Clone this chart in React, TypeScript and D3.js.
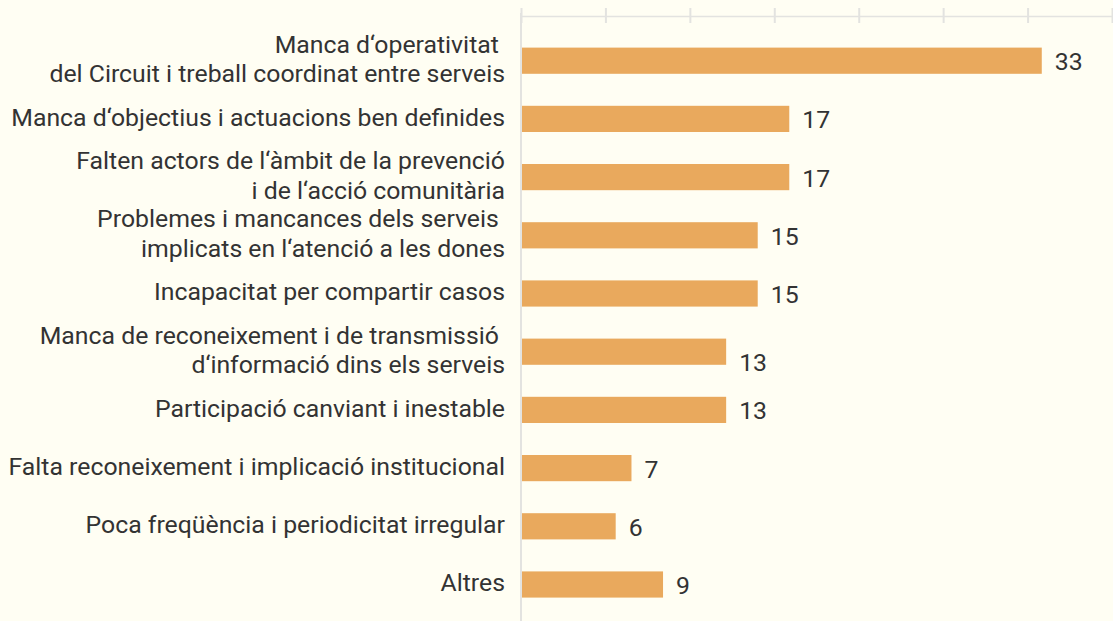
import React, { useRef, useEffect } from 'react';
import * as d3 from 'd3';

const categories = [
  'Manca d‘operativitat \ndel Circuit i treball coordinat entre serveis',
  'Manca d‘objectius i actuacions ben definides',
  'Falten actors de l‘àmbit de la prevenció\ni de l‘acció comunitària',
  'Problemes i mancances dels serveis \nimplicats en l‘atenció a les dones',
  'Incapacitat per compartir casos',
  'Manca de reconeixement i de transmissió \nd‘informació dins els serveis',
  'Participació canviant i inestable',
  'Falta reconeixement i implicació institucional',
  'Poca freqüència i periodicitat irregular',
  'Altres',
];
const values = [33, 17, 17, 15, 15, 13, 13, 7, 6, 9];
const xMax = 37.45;
const tickCount = 7;

const W = 1113;
const H = 621;
const FONT = 'Roboto, "Liberation Sans", sans-serif';
const FS = 24.8;
// the source draws one value label a little low
const valueNudge: Record<number, number> = { 5: 9.5 };

const App = () => {
  const svgRef = useRef<SVGSVGElement>(null);

  useEffect(() => {
    const svg = d3.select(svgRef.current);
    svg.selectAll('*').remove();

    const x = d3.scaleLinear().domain([0, xMax]).range([521, 1112]);
    const y = d3.scaleBand()
      .domain(categories)
      .range([31.6, 613.6])
      .paddingInner(0.55)
      .paddingOuter(0.275);

    svg.append('rect').attr('width', W).attr('height', H).attr('fill', '#fffef3');

    // top axis, no labels
    const ticks = d3.range(tickCount + 1).map(i => (i * xMax) / tickCount);
    const axis = svg.append('g').attr('transform', 'translate(0,16)')
      .call(d3.axisTop(x).tickValues(ticks).tickSize(-7).tickSizeOuter(0).tickFormat(() => ''));
    axis.select('.domain').attr('stroke', '#e3e3e0').attr('stroke-width', 1.5);
    axis.selectAll('.tick line')
      .attr('stroke', '#e3e3e0')
      .attr('stroke-width', 2)
      .attr('y1', -8)
      .attr('y2', 7);

    svg.append('line')
      .attr('x1', x(0)).attr('x2', x(0))
      .attr('y1', 13).attr('y2', H)
      .attr('stroke', '#e3e3e0').attr('stroke-width', 2);

    svg.selectAll('.bar')
      .data(values)
      .join('rect')
      .attr('class', 'bar')
      .attr('x', x(0) + 1)
      .attr('y', (d, i) => y(categories[i]))
      .attr('width', d => x(d) - x(0) - 1)
      .attr('height', y.bandwidth())
      .attr('fill', '#e9a95d');

    svg.selectAll('.val')
      .data(values)
      .join('text')
      .attr('class', 'val')
      .attr('x', d => x(d) + 13)
      .attr('y', (d, i) => y(categories[i]) + y.bandwidth() / 2 + 0.5 + (valueNudge[i] || 0))
      .attr('dy', '0.36em')
      .attr('font-family', FONT)
      .attr('font-size', FS)
      .attr('fill', '#333')
      .text(d => d);

    const labels = svg.selectAll('.lab')
      .data(categories)
      .join('text')
      .attr('class', 'lab')
      .attr('text-anchor', 'end')
      .attr('font-family', FONT)
      .attr('font-size', FS)
      .attr('fill', '#333')
      .style('white-space', 'pre');

    labels.each(function (d) {
      const lines = d.split('\n');
      const cy = y(d) + y.bandwidth() / 2 - 2;
      const lh = 29.6;
      const t = d3.select(this);
      lines.forEach((ln, j) => {
        t.append('tspan')
          .attr('x', 505)
          .attr('y', cy + (j - (lines.length - 1) / 2) * lh)
          .attr('dy', '0.36em')
          .text(ln);
      });
    });
  }, []);

  return (
    <svg
      ref={svgRef}
      width={W}
      height={H}
      style={{ position: 'absolute', left: 0, top: 0, display: 'block' }}
    />
  );
};

export default App;
